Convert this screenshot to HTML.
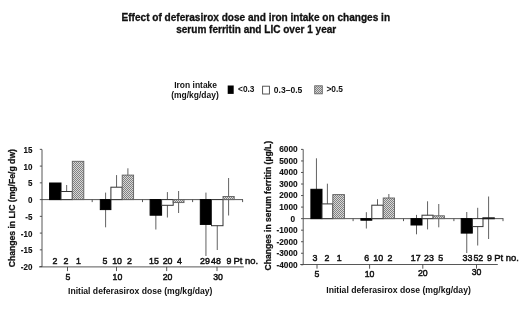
<!DOCTYPE html>
<html lang="en"><head><meta charset="utf-8"><title>Effect of deferasirox dose and iron intake</title>
<style>html,body{margin:0;padding:0;background:#fff;}body{width:520px;height:309px;overflow:hidden;}svg{display:block;font-family:"Liberation Sans", Arial, sans-serif;filter:blur(0.4px);}text{fill:#111;}</style>
</head><body>
<svg width="520" height="309" viewBox="0 0 520 309">
<defs><pattern id="h" width="2" height="2" patternUnits="userSpaceOnUse"><rect width="2" height="2" fill="#d8d8d8"/><rect width="1" height="1" fill="#808080"/><rect x="1" y="1" width="1" height="1" fill="#808080"/></pattern></defs>
<rect width="520" height="309" fill="#fff"/>
<text transform="translate(255.8 20.7)" text-anchor="middle" font-size="10" textLength="268.5" lengthAdjust="spacingAndGlyphs" font-weight="bold" stroke="#111" stroke-width="0.3">Effect of deferasirox dose and iron intake on changes in</text>
<text transform="translate(256.2 32.6)" text-anchor="middle" font-size="10" textLength="160" lengthAdjust="spacingAndGlyphs" font-weight="bold" stroke="#111" stroke-width="0.3">serum ferritin and LIC over 1 year</text>
<text transform="translate(195.6 87.8)" text-anchor="middle" font-size="8.6" textLength="42.8" lengthAdjust="spacingAndGlyphs" font-weight="bold">Iron intake</text>
<text transform="translate(195 97.8)" text-anchor="middle" font-size="8.6" textLength="47.5" lengthAdjust="spacingAndGlyphs" font-weight="bold">(mg/kg/day)</text>
<rect x="227.7" y="85.5" width="6.0" height="8.4" fill="#000"/>
<text transform="translate(238.0 92.2)" text-anchor="start" font-size="8.6" textLength="16.5" lengthAdjust="spacingAndGlyphs" font-weight="bold">&lt;0.3</text>
<rect x="262.6" y="86.2" width="6.8" height="7.8" fill="#fff" stroke="#444" stroke-width="0.9"/>
<text transform="translate(273.8 92.6)" text-anchor="start" font-size="8.6" textLength="28.5" lengthAdjust="spacingAndGlyphs" font-weight="bold">0.3–0.5</text>
<rect x="314.7" y="85.8" width="7.6" height="8.0" fill="url(#h)" stroke="#666" stroke-width="0.9"/>
<text transform="translate(326.4 91.8)" text-anchor="start" font-size="8.6" textLength="16.5" lengthAdjust="spacingAndGlyphs" font-weight="bold">&gt;0.5</text>
<g stroke="#444" stroke-width="0.9" fill="none">
<line x1="42.0" y1="149.5" x2="42.0" y2="266.9"/>
<line x1="39.8" y1="149.35" x2="42.0" y2="149.35"/>
<line x1="39.8" y1="166.10" x2="42.0" y2="166.10"/>
<line x1="39.8" y1="182.85" x2="42.0" y2="182.85"/>
<line x1="39.8" y1="199.60" x2="42.0" y2="199.60"/>
<line x1="39.8" y1="216.35" x2="42.0" y2="216.35"/>
<line x1="39.8" y1="233.10" x2="42.0" y2="233.10"/>
<line x1="39.8" y1="249.85" x2="42.0" y2="249.85"/>
<line x1="39.8" y1="266.60" x2="42.0" y2="266.60"/>
<line x1="39.0" y1="266.9" x2="243.8" y2="266.9"/>
<line x1="67.5" y1="266.9" x2="67.5" y2="271.09999999999997"/>
<line x1="116.5" y1="266.9" x2="116.5" y2="271.09999999999997"/>
<line x1="166.7" y1="266.9" x2="166.7" y2="271.09999999999997"/>
<line x1="217" y1="266.9" x2="217" y2="271.09999999999997"/>
<line x1="42.0" y1="199.6" x2="243" y2="199.6"/>
<line x1="92.2" y1="199.6" x2="92.2" y2="202.1"/>
<line x1="142.5" y1="199.6" x2="142.5" y2="202.1"/>
<line x1="192.6" y1="199.6" x2="192.6" y2="202.1"/>
<line x1="242.6" y1="199.6" x2="242.6" y2="202.1"/>
</g>
<text transform="translate(32.4 152.9) scale(0.88 1)" text-anchor="end" font-size="9.1" font-weight="bold" stroke="#111" stroke-width="0.12">15</text>
<text transform="translate(32.4 169.65) scale(0.88 1)" text-anchor="end" font-size="9.1" font-weight="bold" stroke="#111" stroke-width="0.12">10</text>
<text transform="translate(32.4 186.4) scale(0.88 1)" text-anchor="end" font-size="9.1" font-weight="bold" stroke="#111" stroke-width="0.12">5</text>
<text transform="translate(32.4 203.15) scale(0.88 1)" text-anchor="end" font-size="9.1" font-weight="bold" stroke="#111" stroke-width="0.12">0</text>
<text transform="translate(32.4 219.9) scale(0.88 1)" text-anchor="end" font-size="9.1" font-weight="bold" stroke="#111" stroke-width="0.12">-5</text>
<text transform="translate(32.4 236.65) scale(0.88 1)" text-anchor="end" font-size="9.1" font-weight="bold" stroke="#111" stroke-width="0.12">-10</text>
<text transform="translate(32.4 253.4) scale(0.88 1)" text-anchor="end" font-size="9.1" font-weight="bold" stroke="#111" stroke-width="0.12">-15</text>
<text transform="translate(32.4 270.15) scale(0.88 1)" text-anchor="end" font-size="9.1" font-weight="bold" stroke="#111" stroke-width="0.12">-20</text>
<text transform="translate(15.4 208.2) rotate(-90)" text-anchor="middle" font-size="8.3" textLength="118.3" lengthAdjust="spacingAndGlyphs" font-weight="bold" stroke="#111" stroke-width="0.25">Changes in LIC (mg/Fe/g dw)</text>
<text transform="translate(67.8 280.4) scale(0.92 1)" text-anchor="middle" font-size="9.5" stroke="#111" stroke-width="0.5">5</text>
<text transform="translate(117.4 279.9) scale(0.92 1)" text-anchor="middle" font-size="9.5" stroke="#111" stroke-width="0.5">10</text>
<text transform="translate(167.6 279.9) scale(0.92 1)" text-anchor="middle" font-size="9.5" stroke="#111" stroke-width="0.5">20</text>
<text transform="translate(218.0 280.3) scale(0.92 1)" text-anchor="middle" font-size="9.5" stroke="#111" stroke-width="0.5">30</text>
<line x1="66.65" y1="185.00" x2="66.65" y2="191.50" stroke="#5a5a5a" stroke-width="0.95"/>
<rect x="49.60" y="183.00" width="11.40" height="16.60" fill="#000" stroke="#000" stroke-width="1.0"/>
<rect x="61.00" y="191.50" width="11.30" height="8.10" fill="#fff" stroke="#333" stroke-width="1.0"/>
<rect x="72.30" y="161.30" width="11.50" height="38.30" fill="url(#h)" stroke="#606060" stroke-width="0.9"/>
<line x1="105.60" y1="192.60" x2="105.60" y2="227.30" stroke="#5a5a5a" stroke-width="0.95"/>
<line x1="116.55" y1="175.10" x2="116.55" y2="187.20" stroke="#5a5a5a" stroke-width="0.95"/>
<line x1="127.90" y1="168.30" x2="127.90" y2="175.10" stroke="#5a5a5a" stroke-width="0.95"/>
<rect x="100.30" y="199.60" width="10.60" height="10.00" fill="#000" stroke="#000" stroke-width="1.0"/>
<rect x="110.90" y="187.20" width="11.30" height="12.40" fill="#fff" stroke="#333" stroke-width="1.0"/>
<rect x="122.20" y="175.10" width="11.40" height="24.50" fill="url(#h)" stroke="#606060" stroke-width="0.9"/>
<line x1="155.85" y1="199.60" x2="155.85" y2="229.50" stroke="#5a5a5a" stroke-width="0.95"/>
<line x1="167.40" y1="192.10" x2="167.40" y2="217.50" stroke="#5a5a5a" stroke-width="0.95"/>
<line x1="178.60" y1="191.00" x2="178.60" y2="213.00" stroke="#5a5a5a" stroke-width="0.95"/>
<rect x="150.10" y="199.60" width="11.50" height="15.60" fill="#000" stroke="#000" stroke-width="1.0"/>
<rect x="161.60" y="199.60" width="11.60" height="5.70" fill="#fff" stroke="#333" stroke-width="1.0"/>
<rect x="173.20" y="199.60" width="10.80" height="3.00" fill="url(#h)" stroke="#606060" stroke-width="0.9"/>
<line x1="205.95" y1="192.60" x2="205.95" y2="256.00" stroke="#5a5a5a" stroke-width="0.95"/>
<line x1="217.25" y1="199.60" x2="217.25" y2="250.00" stroke="#5a5a5a" stroke-width="0.95"/>
<line x1="228.60" y1="178.00" x2="228.60" y2="215.50" stroke="#5a5a5a" stroke-width="0.95"/>
<rect x="200.30" y="199.60" width="11.30" height="24.80" fill="#000" stroke="#000" stroke-width="1.0"/>
<rect x="211.50" y="199.60" width="11.50" height="26.10" fill="#fff" stroke="#333" stroke-width="1.0"/>
<rect x="223.00" y="196.50" width="11.20" height="3.10" fill="url(#h)" stroke="#606060" stroke-width="0.9"/>
<text transform="translate(55 264.2) scale(0.9 1)" text-anchor="middle" font-size="9.8" stroke="#111" stroke-width="0.5">2</text>
<text transform="translate(66 264.2) scale(0.9 1)" text-anchor="middle" font-size="9.8" stroke="#111" stroke-width="0.5">2</text>
<text transform="translate(78.5 264.2) scale(0.9 1)" text-anchor="middle" font-size="9.8" stroke="#111" stroke-width="0.5">1</text>
<text transform="translate(105 264.2) scale(0.9 1)" text-anchor="middle" font-size="9.8" stroke="#111" stroke-width="0.5">5</text>
<text transform="translate(117.1 264.2) scale(0.9 1)" text-anchor="middle" font-size="9.8" stroke="#111" stroke-width="0.5">10</text>
<text transform="translate(129.4 264.2) scale(0.9 1)" text-anchor="middle" font-size="9.8" stroke="#111" stroke-width="0.5">2</text>
<text transform="translate(154 264.2) scale(0.9 1)" text-anchor="middle" font-size="9.8" stroke="#111" stroke-width="0.5">15</text>
<text transform="translate(167.6 264.2) scale(0.9 1)" text-anchor="middle" font-size="9.8" stroke="#111" stroke-width="0.5">20</text>
<text transform="translate(179.5 264.2) scale(0.9 1)" text-anchor="middle" font-size="9.8" stroke="#111" stroke-width="0.5">4</text>
<text transform="translate(205 264.2) scale(0.9 1)" text-anchor="middle" font-size="9.8" stroke="#111" stroke-width="0.5">29</text>
<text transform="translate(216 264.2) scale(0.9 1)" text-anchor="middle" font-size="9.8" stroke="#111" stroke-width="0.5">48</text>
<text transform="translate(229 264.2) scale(0.9 1)" text-anchor="middle" font-size="9.8" stroke="#111" stroke-width="0.5">9</text>
<text transform="translate(233.6 264.2) scale(0.96 1)" text-anchor="start" font-size="9.8" stroke="#111" stroke-width="0.5">Pt no.</text>
<text transform="translate(68.0 293.5)" text-anchor="start" font-size="8.6" textLength="144.5" lengthAdjust="spacingAndGlyphs" font-weight="bold">Initial deferasirox dose (mg/kg/day)</text>
<g stroke="#444" stroke-width="0.9" fill="none">
<line x1="303.2" y1="149.4" x2="303.2" y2="264.5"/>
<line x1="301.0" y1="149.40" x2="303.2" y2="149.40"/>
<line x1="301.0" y1="160.94" x2="303.2" y2="160.94"/>
<line x1="301.0" y1="172.48" x2="303.2" y2="172.48"/>
<line x1="301.0" y1="184.02" x2="303.2" y2="184.02"/>
<line x1="301.0" y1="195.56" x2="303.2" y2="195.56"/>
<line x1="301.0" y1="207.10" x2="303.2" y2="207.10"/>
<line x1="301.0" y1="218.64" x2="303.2" y2="218.64"/>
<line x1="301.0" y1="230.18" x2="303.2" y2="230.18"/>
<line x1="301.0" y1="241.72" x2="303.2" y2="241.72"/>
<line x1="301.0" y1="253.26" x2="303.2" y2="253.26"/>
<line x1="301.0" y1="264.80" x2="303.2" y2="264.80"/>
<line x1="300.2" y1="264.5" x2="497.8" y2="264.5"/>
<line x1="317" y1="264.5" x2="317" y2="268.7"/>
<line x1="369.6" y1="264.5" x2="369.6" y2="268.7"/>
<line x1="422.8" y1="264.5" x2="422.8" y2="268.7"/>
<line x1="476.5" y1="264.5" x2="476.5" y2="268.7"/>
<line x1="303.2" y1="218.64" x2="503.4" y2="218.64"/>
<line x1="353.1" y1="218.64" x2="353.1" y2="221.14"/>
<line x1="403.5" y1="218.64" x2="403.5" y2="221.14"/>
<line x1="453.9" y1="218.64" x2="453.9" y2="221.14"/>
<line x1="503.0" y1="218.64" x2="503.0" y2="221.14"/>
</g>
<text transform="translate(297.6 152.0) scale(0.91 1)" text-anchor="end" font-size="9.1" font-weight="bold" stroke="#111" stroke-width="0.12">6000</text>
<text transform="translate(297.6 163.6) scale(0.91 1)" text-anchor="end" font-size="9.1" font-weight="bold" stroke="#111" stroke-width="0.12">5000</text>
<text transform="translate(297.6 175.2) scale(0.91 1)" text-anchor="end" font-size="9.1" font-weight="bold" stroke="#111" stroke-width="0.12">4000</text>
<text transform="translate(297.6 186.8) scale(0.91 1)" text-anchor="end" font-size="9.1" font-weight="bold" stroke="#111" stroke-width="0.12">3000</text>
<text transform="translate(297.6 198.39) scale(0.91 1)" text-anchor="end" font-size="9.1" font-weight="bold" stroke="#111" stroke-width="0.12">2000</text>
<text transform="translate(297.6 209.99) scale(0.91 1)" text-anchor="end" font-size="9.1" font-weight="bold" stroke="#111" stroke-width="0.12">1000</text>
<text transform="translate(295.1 221.59) scale(0.91 1)" text-anchor="end" font-size="9.1" font-weight="bold" stroke="#111" stroke-width="0.12">0</text>
<text transform="translate(297.6 233.19) scale(0.91 1)" text-anchor="end" font-size="9.1" font-weight="bold" stroke="#111" stroke-width="0.12">-1000</text>
<text transform="translate(297.6 244.79) scale(0.91 1)" text-anchor="end" font-size="9.1" font-weight="bold" stroke="#111" stroke-width="0.12">-2000</text>
<text transform="translate(297.6 256.38) scale(0.91 1)" text-anchor="end" font-size="9.1" font-weight="bold" stroke="#111" stroke-width="0.12">-3000</text>
<text transform="translate(297.6 267.98) scale(0.91 1)" text-anchor="end" font-size="9.1" font-weight="bold" stroke="#111" stroke-width="0.12">-4000</text>
<text transform="translate(270.8 205.7) rotate(-90)" text-anchor="middle" font-size="8.3" textLength="129.6" lengthAdjust="spacingAndGlyphs" font-weight="bold" stroke="#111" stroke-width="0.25">Changes in serum ferritin (µg/L)</text>
<text transform="translate(317 276.5) scale(0.92 1)" text-anchor="middle" font-size="9.5" stroke="#111" stroke-width="0.5">5</text>
<text transform="translate(369.6 276.5) scale(0.92 1)" text-anchor="middle" font-size="9.5" stroke="#111" stroke-width="0.5">10</text>
<text transform="translate(422.8 276.2) scale(0.92 1)" text-anchor="middle" font-size="9.5" stroke="#111" stroke-width="0.5">20</text>
<text transform="translate(476.5 275.0) scale(0.92 1)" text-anchor="middle" font-size="9.5" stroke="#111" stroke-width="0.5">30</text>
<line x1="316.45" y1="158.30" x2="316.45" y2="189.30" stroke="#5a5a5a" stroke-width="0.95"/>
<line x1="327.40" y1="183.70" x2="327.40" y2="203.90" stroke="#5a5a5a" stroke-width="0.95"/>
<rect x="310.90" y="189.30" width="11.10" height="29.34" fill="#000" stroke="#000" stroke-width="1.0"/>
<rect x="322.00" y="203.90" width="10.80" height="14.74" fill="#fff" stroke="#333" stroke-width="1.0"/>
<rect x="332.80" y="194.60" width="11.70" height="24.04" fill="url(#h)" stroke="#606060" stroke-width="0.9"/>
<line x1="366.35" y1="212.20" x2="366.35" y2="228.50" stroke="#5a5a5a" stroke-width="0.95"/>
<line x1="377.50" y1="199.20" x2="377.50" y2="205.20" stroke="#5a5a5a" stroke-width="0.95"/>
<line x1="388.85" y1="194.00" x2="388.85" y2="198.00" stroke="#5a5a5a" stroke-width="0.95"/>
<rect x="360.90" y="218.64" width="10.90" height="1.56" fill="#000" stroke="#000" stroke-width="1.0"/>
<rect x="371.80" y="205.20" width="11.40" height="13.44" fill="#fff" stroke="#333" stroke-width="1.0"/>
<rect x="383.20" y="198.00" width="11.30" height="20.64" fill="url(#h)" stroke="#606060" stroke-width="0.9"/>
<line x1="416.50" y1="214.90" x2="416.50" y2="234.30" stroke="#5a5a5a" stroke-width="0.95"/>
<line x1="427.55" y1="201.30" x2="427.55" y2="229.40" stroke="#5a5a5a" stroke-width="0.95"/>
<line x1="438.75" y1="204.00" x2="438.75" y2="227.30" stroke="#5a5a5a" stroke-width="0.95"/>
<rect x="411.00" y="218.64" width="11.00" height="6.36" fill="#000" stroke="#000" stroke-width="1.0"/>
<rect x="422.00" y="215.20" width="11.10" height="3.44" fill="#fff" stroke="#333" stroke-width="1.0"/>
<rect x="433.10" y="215.80" width="11.30" height="2.84" fill="url(#h)" stroke="#606060" stroke-width="0.9"/>
<line x1="466.75" y1="212.00" x2="466.75" y2="253.00" stroke="#5a5a5a" stroke-width="0.95"/>
<line x1="477.70" y1="207.80" x2="477.70" y2="245.50" stroke="#5a5a5a" stroke-width="0.95"/>
<line x1="488.60" y1="196.50" x2="488.60" y2="239.00" stroke="#5a5a5a" stroke-width="0.95"/>
<rect x="461.20" y="218.64" width="11.10" height="14.46" fill="#000" stroke="#000" stroke-width="1.0"/>
<rect x="472.40" y="218.64" width="10.60" height="7.96" fill="#fff" stroke="#333" stroke-width="1.0"/>
<rect x="483.00" y="217.90" width="11.20" height="0.74" fill="url(#h)" stroke="#1a1a1a" stroke-width="1.2"/>
<text transform="translate(315.0 261.0) scale(0.9 1)" text-anchor="middle" font-size="9.8" stroke="#111" stroke-width="0.5">3</text>
<text transform="translate(326.9 261.0) scale(0.9 1)" text-anchor="middle" font-size="9.8" stroke="#111" stroke-width="0.5">2</text>
<text transform="translate(339.1 261.0) scale(0.9 1)" text-anchor="middle" font-size="9.8" stroke="#111" stroke-width="0.5">1</text>
<text transform="translate(366.8 261.0) scale(0.9 1)" text-anchor="middle" font-size="9.8" stroke="#111" stroke-width="0.5">6</text>
<text transform="translate(378.2 261.0) scale(0.9 1)" text-anchor="middle" font-size="9.8" stroke="#111" stroke-width="0.5">10</text>
<text transform="translate(390 261.0) scale(0.9 1)" text-anchor="middle" font-size="9.8" stroke="#111" stroke-width="0.5">2</text>
<text transform="translate(415.7 261.0) scale(0.9 1)" text-anchor="middle" font-size="9.8" stroke="#111" stroke-width="0.5">17</text>
<text transform="translate(429.0 261.0) scale(0.9 1)" text-anchor="middle" font-size="9.8" stroke="#111" stroke-width="0.5">23</text>
<text transform="translate(440.8 261.0) scale(0.9 1)" text-anchor="middle" font-size="9.8" stroke="#111" stroke-width="0.5">5</text>
<text transform="translate(467.4 261.0) scale(0.9 1)" text-anchor="middle" font-size="9.8" stroke="#111" stroke-width="0.5">33</text>
<text transform="translate(478.3 261.0) scale(0.9 1)" text-anchor="middle" font-size="9.8" stroke="#111" stroke-width="0.5">52</text>
<text transform="translate(489.5 261.0) scale(0.9 1)" text-anchor="middle" font-size="9.8" stroke="#111" stroke-width="0.5">9</text>
<text transform="translate(494.2 261.0) scale(0.96 1)" text-anchor="start" font-size="9.8" stroke="#111" stroke-width="0.5">Pt no.</text>
<text transform="translate(326.3 292.6)" text-anchor="start" font-size="8.6" textLength="144.5" lengthAdjust="spacingAndGlyphs" font-weight="bold">Initial deferasirox dose (mg/kg/day)</text>
</svg></body></html>
